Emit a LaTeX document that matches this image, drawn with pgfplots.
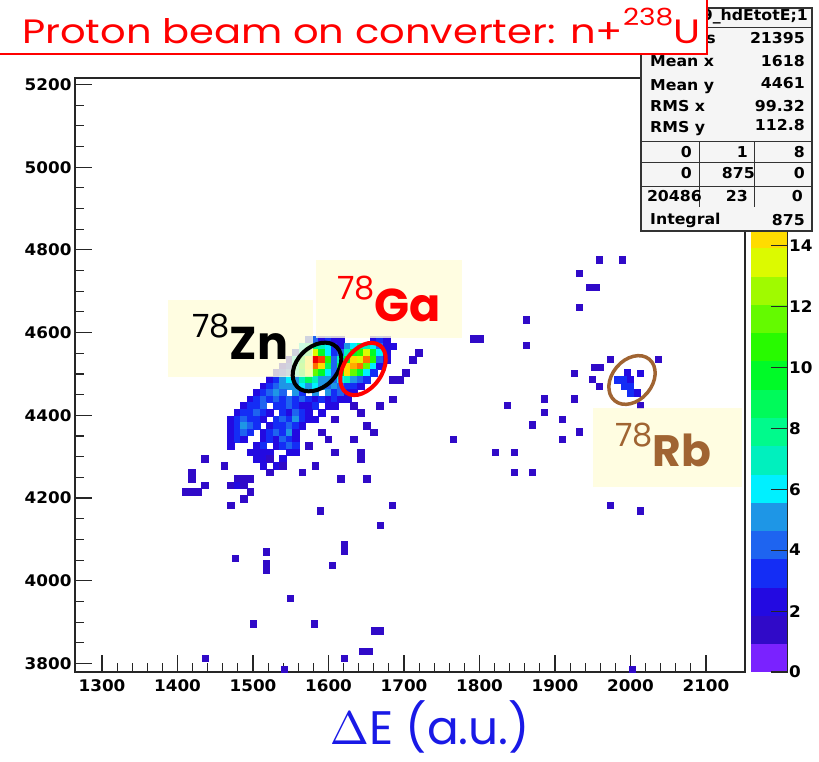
\documentclass[border=0pt]{standalone}
\usepackage{pgfplots}
\pgfplotsset{compat=1.18}
\usepackage{fontspec}
\newfontfamily\rootfont{DejaVu Sans}[FakeStretch=1.05]
\newfontfamily\comicfont{Poppins}
\definecolor{boxyellow}{RGB}{255,253,218}
\definecolor{rbbrown}{RGB}{160,100,50}
\definecolor{labblue}{RGB}{25,25,230}
\pgfplotstableread{
x y v
1573.4 4583 3
1582.0 4583 4
1590.6 4583 2
1599.2 4583 3
1607.8 4583 2
1616.4 4583 2
1659.4 4583 2
1668.0 4583 3
1676.6 4583 2
1564.8 4567 6
1573.4 4567 7
1582.0 4567 8
1590.6 4567 7
1599.2 4567 6
1607.8 4567 3
1616.4 4567 2
1625.0 4567 5
1633.6 4567 6
1642.2 4567 8
1650.8 4567 7
1659.4 4567 6
1668.0 4567 4
1676.6 4567 2
1685.2 4567 2
1556.2 4551 3
1564.8 4551 6
1573.4 4551 9
1582.0 4551 13
1590.6 4551 10
1599.2 4551 6
1607.8 4551 3
1616.4 4551 4
1625.0 4551 7
1633.6 4551 10
1642.2 4551 11
1650.8 4551 13
1659.4 4551 10
1668.0 4551 6
1676.6 4551 2
1719.6 4551 1
1547.6 4535 2
1556.2 4535 6
1564.8 4535 10
1573.4 4535 14
1582.0 4535 19
1590.6 4535 17
1599.2 4535 11
1607.8 4535 4
1616.4 4535 7
1625.0 4535 10
1633.6 4535 14
1642.2 4535 13
1650.8 4535 16
1659.4 4535 11
1668.0 4535 4
1676.6 4535 2
1711.0 4535 1
1539.0 4519 2
1547.6 4519 3
1556.2 4519 7
1564.8 4519 11
1573.4 4519 14
1582.0 4519 16
1590.6 4519 14
1599.2 4519 9
1607.8 4519 4
1616.4 4519 9
1625.0 4519 14
1633.6 4519 15
1642.2 4519 16
1650.8 4519 12
1659.4 4519 6
1668.0 4519 2
1530.4 4503 2
1539.0 4503 3
1547.6 4503 4
1556.2 4503 7
1564.8 4503 10
1573.4 4503 13
1582.0 4503 12
1590.6 4503 10
1599.2 4503 6
1607.8 4503 4
1616.4 4503 10
1625.0 4503 14
1633.6 4503 12
1642.2 4503 10
1650.8 4503 6
1659.4 4503 3
1702.4 4503 1
1521.8 4487 2
1530.4 4487 3
1539.0 4487 5
1547.6 4487 6
1556.2 4487 5
1564.8 4487 7
1573.4 4487 9
1582.0 4487 7
1590.6 4487 5
1599.2 4487 5
1607.8 4487 4
1616.4 4487 6
1625.0 4487 7
1633.6 4487 5
1642.2 4487 4
1650.8 4487 3
1685.2 4487 1
1693.8 4487 1
1513.2 4471 2
1521.8 4471 3
1530.4 4471 4
1539.0 4471 5
1547.6 4471 5
1556.2 4471 5
1564.8 4471 6
1573.4 4471 5
1582.0 4471 6
1590.6 4471 5
1599.2 4471 4
1607.8 4471 5
1616.4 4471 4
1625.0 4471 3
1633.6 4471 3
1642.2 4471 2
1504.6 4455 2
1513.2 4455 3
1521.8 4455 4
1530.4 4455 5
1539.0 4455 4
1556.2 4455 5
1564.8 4455 3
1582.0 4455 5
1599.2 4455 5
1607.8 4455 3
1616.4 4455 4
1625.0 4455 2
1633.6 4455 2
1496.0 4439 2
1504.6 4439 3
1513.2 4439 4
1521.8 4439 3
1530.4 4439 4
1539.0 4439 3
1547.6 4439 4
1556.2 4439 3
1564.8 4439 4
1573.4 4439 3
1582.0 4439 2
1590.6 4439 3
1599.2 4439 2
1607.8 4439 3
1616.4 4439 2
1625.0 4439 2
1685.2 4439 1
1487.4 4423 2
1496.0 4423 3
1504.6 4423 3
1513.2 4423 4
1530.4 4423 3
1539.0 4423 3
1547.6 4423 4
1556.2 4423 3
1564.8 4423 2
1573.4 4423 2
1582.0 4423 3
1599.2 4423 2
1607.8 4423 2
1633.6 4423 1
1668.0 4423 1
1478.8 4407 2
1487.4 4407 3
1496.0 4407 3
1504.6 4407 4
1513.2 4407 3
1521.8 4407 2
1539.0 4407 3
1547.6 4407 2
1556.2 4407 4
1564.8 4407 3
1573.4 4407 2
1590.6 4407 2
1642.2 4407 1
1470.2 4391 2
1478.8 4391 3
1487.4 4391 4
1496.0 4391 3
1504.6 4391 3
1513.2 4391 2
1530.4 4391 3
1539.0 4391 4
1547.6 4391 3
1556.2 4391 5
1564.8 4391 3
1573.4 4391 2
1582.0 4391 2
1607.8 4391 1
1470.2 4375 2
1478.8 4375 3
1487.4 4375 5
1496.0 4375 4
1504.6 4375 3
1521.8 4375 2
1530.4 4375 3
1539.0 4375 3
1547.6 4375 4
1556.2 4375 3
1564.8 4375 2
1650.8 4375 1
1470.2 4359 2
1478.8 4359 3
1487.4 4359 4
1496.0 4359 3
1513.2 4359 2
1521.8 4359 3
1530.4 4359 4
1539.0 4359 3
1547.6 4359 5
1556.2 4359 2
1590.6 4359 1
1659.4 4359 1
1470.2 4343 2
1478.8 4343 3
1487.4 4343 2
1513.2 4343 2
1521.8 4343 3
1530.4 4343 2
1539.0 4343 4
1547.6 4343 3
1556.2 4343 2
1599.2 4343 1
1633.6 4343 1
1470.2 4327 2
1504.6 4327 2
1513.2 4327 3
1530.4 4327 2
1539.0 4327 3
1547.6 4327 4
1556.2 4327 3
1573.4 4327 1
1496.0 4311 2
1504.6 4311 2
1513.2 4311 2
1521.8 4311 2
1547.6 4311 2
1556.2 4311 2
1607.8 4311 1
1642.2 4311 1
1435.8 4295 1
1504.6 4295 2
1513.2 4295 2
1521.8 4295 1
1539.0 4295 2
1642.2 4295 1
1461.6 4279 1
1513.2 4279 2
1530.4 4279 2
1539.0 4279 1
1582.0 4279 1
1418.6 4263 1
1521.8 4263 1
1564.8 4263 1
1418.6 4247 1
1478.8 4247 1
1487.4 4247 1
1496.0 4247 1
1616.4 4247 1
1650.8 4247 1
1435.8 4231 1
1470.2 4231 1
1478.8 4231 2
1487.4 4231 1
1410.0 4215 1
1418.6 4215 1
1427.2 4215 1
1496.0 4215 1
1487.4 4199 1
1470.2 4183 1
1958.3 4776 1
1988.7 4776 1
1931.8 4744 1
1945.0 4710 1
1954.3 4710 1
1931.8 4662 1
1861.6 4631 1
1792.4 4585 1
1801.0 4585 1
1861.6 4570 1
1972.8 4536 1
2036.4 4536 1
1951.7 4517 1
1959.6 4517 1
1925.2 4502 1
1949.0 4488 1
1958.3 4471 1
1995.4 4504 2
2012.6 4502 2
1982.1 4487 3
1991.4 4487 3
1999.3 4487 2
1991.4 4471 3
1999.3 4471 3
1999.3 4455 3
2008.6 4455 2
2012.6 4425 1
1925.2 4440 1
1885.4 4440 1
1885.4 4408 1
1836.4 4425 1
1869.5 4377 1
1909.3 4391 1
1909.3 4343 1
1931.8 4360 1
1764.9 4343 1
1820.5 4311 1
1845.7 4311 1
1845.7 4263 1
1869.5 4263 1
1972.8 4183 1
2012.6 4169 1
1588.7 4169 1
1684.1 4183 1
1668.2 4135 1
1620.5 4087 1
1620.5 4072 1
1517.2 4070 1
1476.2 4055 1
1517.2 4043 1
1517.2 4026 1
1604.6 4038 1
1549.0 3958 1
1500.0 3896 1
1580.8 3896 1
1660.3 3879 1
1668.2 3879 1
1644.4 3830 1
1653.6 3830 1
1436.4 3813 1
1620.5 3813 1
1541.0 3786 1
2002.0 3786 1
}\cells
\begin{document}
\begin{tikzpicture}[x=1pt,y=1pt]
\useasboundingbox (0,0) rectangle (819,762);
\begin{axis}[
  at={(75pt,90pt)}, anchor=south west,
  scale only axis, width=670pt, height=594pt,
  xmin=1264.2, xmax=2151.7, ymin=3779.4, ymax=5215.7,
  xtick={1300,1400,...,2100}, ytick={3800,4000,...,5200},
  minor x tick num=4, minor y tick num=3,
  tick pos=left, tick align=inside,
  major tick length=17pt, minor tick length=8.5pt,
  tick style={black!85, line width=1.1pt},
  axis line style={black!85, line width=1.3pt},
  /pgf/number format/1000 sep={},
  /pgf/number format/assume math mode=true,
  ticklabel style={font=\rootfont\bfseries\fontsize{16}{16}\selectfont},
  xticklabel style={yshift=-4pt},
  colormap={rootpal}{rgb255=(122,34,255) rgb255=(48,10,200) rgb255=(35,10,225) rgb255=(20,45,245) rgb255=(30,100,240) rgb255=(30,150,230) rgb255=(0,240,255) rgb255=(0,240,190) rgb255=(0,250,140) rgb255=(0,250,90) rgb255=(0,250,40) rgb255=(40,250,0) rgb255=(100,250,0) rgb255=(160,250,0) rgb255=(220,250,0) rgb255=(255,220,0) rgb255=(255,170,0) rgb255=(255,110,0) rgb255=(255,60,0) rgb255=(240,0,0) rgb255=(240,0,0)},
  colormap access=piecewise constant,
  point meta min=0, point meta max=19.5,
  colorbar,
  colorbar style={
    at={(parent axis.south east)}, anchor=south west, xshift=-3pt,
    scale only axis, width=37pt, height=594pt,
    axis x line=none, axis y line*=right,
    ytick={0,2,...,14}, tick align=inside,
    major tick length=17pt,
    tick style={black!85, line width=1.1pt},
    axis line style={black!85, line width=1.3pt},
    yticklabel style={font=\rootfont\bfseries\fontsize{16}{16}\selectfont, xshift=-2pt},
    /pgf/number format/assume math mode=true,
  },
]
\addplot[scatter, only marks, mark=square*, mark size=3.3pt,
  scatter/use mapped color={draw=mapped color, fill=mapped color, line width=0.2pt},
  point meta=explicit] table[x=x, y=y, meta=v] {\cells};
\end{axis}
% annotation boxes
\fill[boxyellow, opacity=0.8] (168,385) rectangle (313,462);
\fill[boxyellow, opacity=0.8] (316,424) rectangle (462,502);
\fill[boxyellow, opacity=0.8] (593,275) rectangle (742,354);
\node[anchor=base west, inner sep=0pt] at (192,402) {\comicfont\raisebox{22pt}{\fontsize{32}{32}\selectfont 78}\fontsize{46}{46}\selectfont\bfseries Zn};
\node[anchor=base west, inner sep=0pt, text=red] at (337,440) {\comicfont\raisebox{22pt}{\fontsize{32}{32}\selectfont 78}\fontsize{46}{46}\selectfont\bfseries Ga};
\node[anchor=base west, inner sep=0pt, text=rbbrown] at (615,295) {\comicfont\raisebox{20pt}{\fontsize{32}{32}\selectfont 78}\fontsize{44}{44}\selectfont\bfseries Rb};
% ellipses
\draw[black, line width=4pt, rotate around={45:(317,395)}] (317,395) ellipse [x radius=28, y radius=20];
\draw[red, line width=4pt, rotate around={55:(363,393)}] (363,393) ellipse [x radius=29, y radius=19];
\draw[rbbrown, line width=3.5pt, rotate around={50:(632,382)}] (632,382) ellipse [x radius=27, y radius=20];
% stats box
\draw[black!80, line width=1.2pt, fill=black!4] (641,531) rectangle (812,754);
\draw[black!80, line width=1pt] (641,734) -- (812,734);
\draw[black!80, line width=1pt] (641,620) -- (812,620);
\draw[black!80, line width=1pt] (641,599) -- (812,599);
\draw[black!80, line width=1pt] (641,575) -- (812,575);
\draw[black!80, line width=1pt] (699,620) -- (699,555);
\draw[black!80, line width=1pt] (754,620) -- (754,555);
\begin{scope}[every node/.style={inner sep=0pt, font=\rootfont\bfseries\fontsize{15}{15}\selectfont}]
\node[anchor=east] at (808,745) {h9\_hdEtotE;1};
\node[anchor=east] at (716,724) {Entries};
\node[anchor=east] at (805,724) {21395};
\node[anchor=west] at (650,701) {Mean x};
\node[anchor=east] at (805,701) {1618};
\node[anchor=west] at (650,675) {Mean y};
\node[anchor=east] at (805,679) {4461};
\node[anchor=west] at (650,656) {RMS x};
\node[anchor=east] at (805,656) {99.32};
\node[anchor=west] at (650,633) {RMS y};
\node[anchor=east] at (805,637) {112.8};
\node[anchor=east] at (692,610) {0};
\node[anchor=east] at (748,610) {1};
\node[anchor=east] at (805,610) {8};
\node[anchor=east] at (692,589) {0};
\node[anchor=east] at (755,589) {875};
\node[anchor=east] at (805,589) {0};
\node[anchor=east] at (702,566) {20486};
\node[anchor=east] at (748,566) {23};
\node[anchor=east] at (803,566) {0};
\node[anchor=west] at (650,542) {Integral};
\node[anchor=east] at (805,542) {875};
\end{scope}
% title box (covers the left part of the stats header, as in the original)
\draw[red, line width=2.5pt, fill=white] (-5,708) rectangle (707,775);
\node[anchor=base west, inner sep=0pt, text=red] at (22,718) {\resizebox{678pt}{36pt}{\comicfont Proton beam on converter: n+\raisebox{0.55em}{\scriptsize 238}U}};
% x label
\node[anchor=center, inner sep=0pt, text=labblue] at (430,35) {\resizebox{200pt}{!}{\comicfont $\Delta$E (a.u.)}};
\end{tikzpicture}
\end{document}
